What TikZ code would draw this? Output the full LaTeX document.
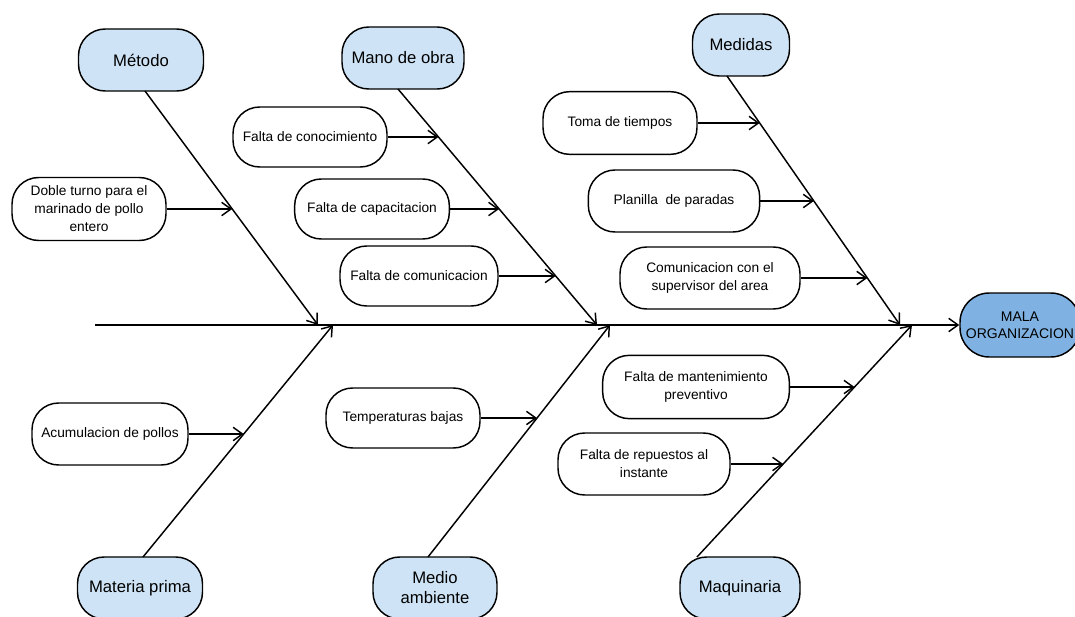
\documentclass[tikz,border=0pt]{standalone}
\usepackage{fontspec}
\setmainfont{Liberation Sans}
\usetikzlibrary{arrows.meta,calc}
\definecolor{catblue}{RGB}{206,228,246}
\definecolor{headblue}{RGB}{127,178,226}
\begin{document}
\begin{tikzpicture}[x=0.75pt,y=-0.75pt,
  line width=1.1pt,
  arr/.style={-{Straight Barb[length=7pt,width=10pt]}},
  catbox/.style={draw,fill=catblue,rounded corners=20pt,minimum height=46.5pt,align=center,
    font=\fontsize{12.5}{15}\selectfont,inner sep=2pt},
  causebox/.style={draw,fill=white,rounded corners=20pt,minimum height=45pt,align=center,
    font=\fontsize{10.3}{13.5}\selectfont,inner sep=2pt},
  headbox/.style={draw,fill=headblue,rounded corners=22pt,minimum height=48pt,minimum width=90pt,align=center,
    font=\fontsize{10.5}{12.75}\selectfont,inner sep=2pt}]
\useasboundingbox (0,0) rectangle (1075,617);

% head and spine
\node[headbox] (head) at (1020,325) {MALA\\ORGANIZACION};
\coordinate (tail) at (95,325);
\draw[arr] (tail) -- (head.west);

% category boxes
\node[catbox,minimum width=93.75pt] (metodo) at (141,60) {Método};
\node[catbox,minimum width=91.5pt] (mano) at (403,58) {Mano de obra};
\node[catbox,minimum width=72.75pt] (medidas) at (741,45) {Medidas};
\node[catbox,minimum width=93.75pt] (materia) at (140,588) {Materia prima};
\node[catbox,minimum width=93pt] (medio) at (435,588) {Medio\\ambiente};
\node[catbox,minimum width=90pt] (maquinaria) at (740,588) {Maquinaria};

% bone end points
\coordinate (b1s) at (145,91);  \coordinate (b1e) at (318,325);
\coordinate (b2s) at (398,89);  \coordinate (b2e) at (597,325);
\coordinate (b3s) at (727,76);  \coordinate (b3e) at (900,325);
\coordinate (b4s) at (143,557); \coordinate (b4e) at (333,325);
\coordinate (b5s) at (428,557); \coordinate (b5e) at (610,325);
\coordinate (b6s) at (697,557); \coordinate (b6e) at (912,325);

\draw[arr] (b1s) -- (b1e);
\draw[arr] (b2s) -- (b2e);
\draw[arr] (b3s) -- (b3e);
\draw[arr] (b4s) -- (b4e);
\draw[arr] (b5s) -- (b5e);
\draw[arr] (b6s) -- (b6e);

% cause boxes
\node[causebox,minimum width=115.5pt,minimum height=47.25pt] (c1) at (89,209) {Doble turno para el\\marinado de pollo\\entero};
\node[causebox,minimum width=117pt,minimum height=46.5pt] (c2) at (110,434) {Acumulacion de pollos};
\node[causebox,minimum width=115.5pt] (c3) at (310,137) {Falta de conocimiento};
\node[causebox,minimum width=116pt] (c4) at (372,209) {Falta de capacitacion};
\node[causebox,minimum width=118.5pt] (c5) at (419,276) {Falta de comunicacion};
\node[causebox,minimum width=115.5pt] (c6) at (403,418) {Temperaturas bajas};
\node[causebox,minimum width=115.5pt,minimum height=47pt] (c7) at (620,123) {Toma de tiempos};
\node[causebox,minimum width=128.5pt,minimum height=46.5pt] (c8) at (674,201) {Planilla\ \ de paradas};
\node[causebox,minimum width=135pt,minimum height=46.5pt] (c9) at (710,278) {Comunicacion con el\\supervisor del area};
\node[causebox,minimum width=140pt,minimum height=47.5pt] (c10) at (696,387) {Falta de mantenimiento\\preventivo};
\node[causebox,minimum width=129pt,minimum height=46.5pt] (c11) at (644,464) {Falta de repuestos al\\instante};

% points on bones
\coordinate (p1) at ($(b1s)!{(209-91)/234}!(b1e)$);
\coordinate (p2) at ($(b4s)!{(557-434)/232}!(b4e)$);
\coordinate (p3) at ($(b2s)!{(137-89)/236}!(b2e)$);
\coordinate (p4) at ($(b2s)!{(209-89)/236}!(b2e)$);
\coordinate (p5) at ($(b2s)!{(276-89)/236}!(b2e)$);
\coordinate (p6) at ($(b5s)!{(557-418)/232}!(b5e)$);
\coordinate (p7) at ($(b3s)!{(123-76)/249}!(b3e)$);
\coordinate (p8) at ($(b3s)!{(201-76)/249}!(b3e)$);
\coordinate (p9) at ($(b3s)!{(278-76)/249}!(b3e)$);
\coordinate (p10) at ($(b6s)!{(557-387)/232}!(b6e)$);
\coordinate (p11) at ($(b6s)!{(557-464)/232}!(b6e)$);

\foreach \i in {1,...,11} {
  \draw[arr] (c\i.east) -- (c\i.east -| p\i);
}
\end{tikzpicture}
\end{document}
